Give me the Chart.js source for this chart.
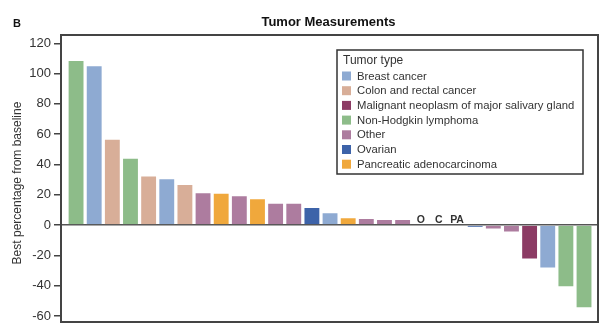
<!DOCTYPE html>
<html>
<head>
<meta charset="utf-8">
<script src="https://cdn.jsdelivr.net/npm/chart.js@4"></script>
<style>
  html, body { margin: 0; padding: 0; background: #fff; }
  #wrap { width: 608px; height: 324px; position: relative; }
</style>
</head>
<body>
<div id="wrap"><canvas id="grafica"></canvas></div>
<script>
// tipos de tumor y sus colores
const tumorTypes = ['Breast cancer', 'Colon and rectal cancer', 'Malignant neoplasm of major salivary gland',
  'Non-Hodgkin lymphoma', 'Other', 'Ovarian', 'Pancreatic adenocarcinoma'];
const typeCodes = ['B', 'C', 'S', 'NHL', 'O', 'OV', 'PA'];
const typeColors = ['#8eaad2', '#d8ae98', '#8c3b64', '#8dbc89', '#ad7c9f', '#3d63a9', '#f0a83c'];

// un valor por paciente, ordenado como en la figura
const barTypes = ['NHL', 'B', 'C', 'NHL', 'C', 'B', 'C', 'O', 'PA', 'O', 'PA', 'O', 'O', 'OV', 'B', 'PA',
  'O', 'O', 'O', 'O', 'C', 'PA', 'OV', 'O', 'O', 'S', 'B', 'NHL', 'NHL'];
const bestChange = [109, 105.5, 57, 44.5, 32.8, 30.9, 27.1, 21.6, 21.4, 19.7, 17.7, 14.7, 14.7, 11.9, 8.4, 5.1,
  4.6, 4.0, 4.0, 0, 0, 0, -1.8, -2.9, -4.9, -22.7, -28.6, -41, -55];
const yTicks = [-60, -40, -20, 0, 20, 40, 60, 80, 100, 120];

const FONT = '"Liberation Sans", Arial, sans-serif';
const colorOf = code => typeColors[typeCodes.indexOf(code)];

const puntos = bestChange.map((v, i) => ({ x: i, y: v }));

const decoracion = {
  id: 'decoracion',
  afterDraw(chart) {
    const ctx = chart.ctx;
    const a = chart.chartArea;
    const xs = chart.scales.x, ys = chart.scales.y;
    ctx.save();

    // marco
    ctx.strokeStyle = '#444';
    ctx.lineWidth = 2;
    ctx.strokeRect(a.left, a.top, a.right - a.left, a.bottom - a.top);

    // etiquetas de barras en cero
    ctx.fillStyle = '#333';
    ctx.font = 'bold 10.5px ' + FONT;
    ctx.textAlign = 'center';
    ctx.textBaseline = 'alphabetic';
    bestChange.forEach((v, i) => {
      if (v === 0) ctx.fillText(barTypes[i], xs.getPixelForValue(i), ys.getPixelForValue(0) - 2);
    });

    // titulo
    ctx.font = 'bold 13px ' + FONT;
    ctx.fillStyle = '#111';
    ctx.textBaseline = 'middle';
    ctx.fillText('Tumor Measurements', (a.left + a.right) / 2 - 1, 22);
    ctx.textAlign = 'left';
    ctx.font = 'bold 11px ' + FONT;
    ctx.fillText('B', 13, 24);

    // titulo del eje y
    ctx.save();
    ctx.translate(18, 183);
    ctx.rotate(-Math.PI / 2);
    ctx.textAlign = 'center';
    ctx.fillStyle = '#333';
    ctx.font = '12px ' + FONT;
    ctx.fillText('Best percentage from baseline', 0, 0);
    ctx.restore();

    // leyenda
    const lx = 337, ly = 50, lw = 246, lh = 124;
    ctx.fillStyle = '#fff';
    ctx.fillRect(lx, ly, lw, lh);
    ctx.strokeStyle = '#333';
    ctx.lineWidth = 1.5;
    ctx.strokeRect(lx, ly, lw, lh);
    ctx.fillStyle = '#333';
    ctx.font = '12px ' + FONT;
    ctx.fillText('Tumor type', lx + 6, ly + 10.5);
    ctx.font = '11.3px ' + FONT;
    tumorTypes.forEach((t, i) => {
      const cy = ly + 26 + i * 14.7;
      ctx.fillStyle = typeColors[i];
      ctx.fillRect(lx + 5, cy - 4.5, 9, 9);
      ctx.fillStyle = '#333';
      ctx.fillText(t, lx + 20, cy + 0.5);
    });
    ctx.restore();
  }
};

new Chart(document.getElementById('grafica').getContext('2d'), {
  type: 'bar',
  data: {
    datasets: [{
      label: 'Best percentage from baseline',
      data: puntos,
      backgroundColor: barTypes.map(colorOf),
      borderColor: 'rgba(255,255,255,0.45)',
      borderWidth: 1,
      borderSkipped: 'start',
      barPercentage: 0.93,
      categoryPercentage: 1
    }]
  },
  options: {
    responsive: true,
    maintainAspectRatio: false,
    animation: false,
    layout: { padding: { top: 35, right: 10, bottom: 2, left: 0 } },
    plugins: {
      legend: { display: false },
      title: { display: false },
      tooltip: { enabled: false }
    },
    scales: {
      x: {
        type: 'linear',
        min: -0.83,
        max: 28.77,
        offset: false,
        grid: { offset: false },
        display: false
      },
      y: {
        min: -64,
        max: 125.5,
        afterFit(scale) {
          scale.width = 61;
          scale.paddingTop = 0;
          scale.paddingBottom = 0;
        },
        afterBuildTicks(scale) { scale.ticks = yTicks.map(v => ({ value: v })); },
        ticks: {
          color: '#333',
          font: { family: FONT, size: 13 },
          padding: 3
        },
        grid: {
          color: c => (c.tick && c.tick.value === 0 ? '#555' : 'rgba(0,0,0,0)'),
          lineWidth: 1.5,
          tickColor: '#444',
          tickLength: 7,
          tickWidth: 1.5
        },
        border: { display: true, color: '#444', width: 2 },
        title: { display: false }
      }
    }
  },
  plugins: [decoracion]
});
</script>
</body>
</html>
